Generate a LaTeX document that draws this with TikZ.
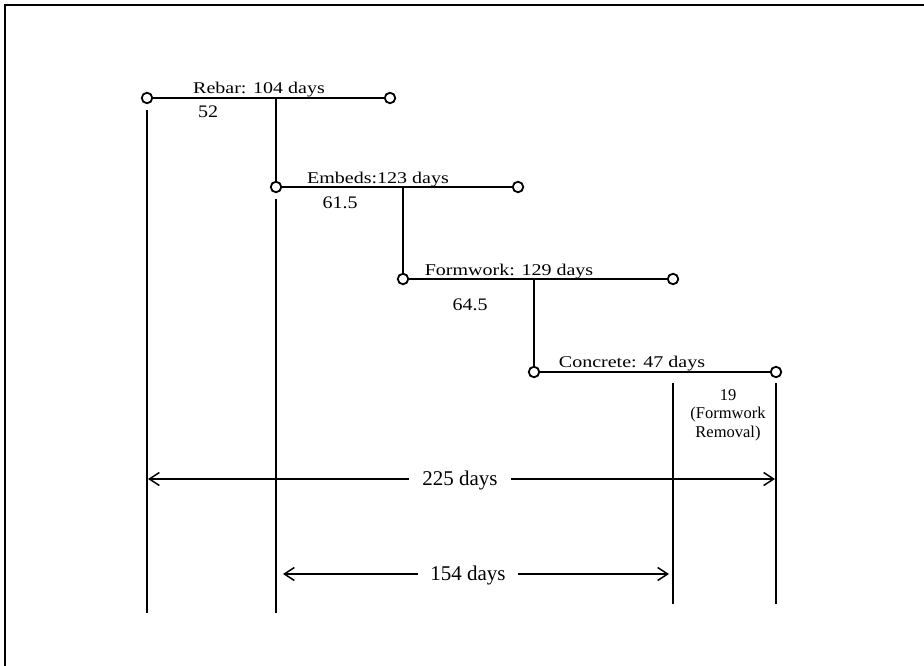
\documentclass[tikz,border=0pt]{standalone}
\usepackage{fontspec}
\setmainfont{Liberation Serif}
\usetikzlibrary{arrows.meta}
\begin{document}
\begin{tikzpicture}[x=1pt,y=-1pt,
  dot/.style={circle,draw,line width=1.8pt,fill=white,minimum size=10.5pt,inner sep=0pt},
  bar/.style={line width=2pt},
  vline/.style={line width=1.8pt},
  dimarrow/.style={line width=1.5pt,-{Straight Barb[length=10pt,width=13pt,line width=1.5pt]}},
  actlbl/.style={font=\fontsize{20}{24}\selectfont,anchor=base,inner sep=0pt},
  numlbl/.style={font=\fontsize{20}{24}\selectfont,anchor=base,inner sep=0pt},
  dimlbl/.style={font=\fontsize{21}{24}\selectfont,anchor=base,inner sep=0pt},
  smalllbl/.style={font=\fontsize{16.5}{18.5}\selectfont,anchor=north,inner sep=0pt,align=center},
  frameline/.style={line width=1.6pt}
]
\useasboundingbox (0,0) rectangle (924,666);
% frame (top and left edges visible)
\coordinate (f1) at (5,666);
\coordinate (f2) at (5,5);
\coordinate (f3) at (924,5);
\draw[frameline] (f1) -- (f2) -- (f3);

% activity end points
\node[dot] (rs) at (147,98) {};
\node[dot] (re) at (390,98) {};
\node[dot] (es) at (276,187) {};
\node[dot] (ee) at (518,187) {};
\node[dot] (fs) at (403,279) {};
\node[dot] (fe) at (673,279) {};
\node[dot] (cs) at (534,372) {};
\node[dot] (ce) at (776,372) {};

% junction points on bars
\coordinate (rj) at (276,98);
\coordinate (ej) at (403,187);
\coordinate (fj) at (534,279);

% bars
\draw[bar] (rs) -- (re);
\draw[bar] (es) -- (ee);
\draw[bar] (fs) -- (fe);
\draw[bar] (cs) -- (ce);

% links between activities
\draw[bar] (rj) -- (es);
\draw[bar] (ej) -- (fs);
\draw[bar] (fj) -- (cs);

% activity labels
\node[actlbl] (lr) at (259,94) {\scalebox{1}[0.82]{Rebar: 104 days}};
\node[actlbl] (le) at (378,183) {\scalebox{1}[0.82]{Embeds:123 days}};
\node[actlbl] (lf) at (509,275) {\scalebox{1}[0.82]{Formwork: 129 days}};
\node[actlbl] (lc) at (632,367) {\scalebox{1}[0.82]{Concrete: 47 days}};

% half durations
\node[numlbl] (n52) at (208,118) {\scalebox{1}[0.88]{52}};
\node[numlbl] (n61) at (340,208) {\scalebox{1}[0.88]{61.5}};
\node[numlbl] (n64) at (470,310) {\scalebox{1}[0.88]{64.5}};

% formwork removal
\node[smalllbl] (n19) at (728,389) {19\\(Formwork\\Removal)};

% vertical reference lines
\coordinate (v1t) at (147,110);
\coordinate (v1b) at (147,613);
\coordinate (v2t) at (276,199);
\coordinate (v2b) at (276,613);
\coordinate (v3t) at (673,383);
\coordinate (v3b) at (673,604);
\coordinate (v4t) at (776,383);
\coordinate (v4b) at (776,604);
\draw[vline] (v1t) -- (v1b);
\draw[vline] (v2t) -- (v2b);
\draw[vline] (v3t) -- (v3b);
\draw[vline] (v4t) -- (v4b);

% dimension 225 days
\node[dimlbl] (d225) at (460,485) {225 days};
\coordinate (a1l) at (409,479);
\coordinate (a1r) at (511,479);
\coordinate (a1lt) at (148,479);
\coordinate (a1rt) at (775,479);
\draw[dimarrow] (a1l) -- (a1lt);
\draw[dimarrow] (a1r) -- (a1rt);

% dimension 154 days
\node[dimlbl] (d154) at (468,580) {154 days};
\coordinate (a2l) at (418,574);
\coordinate (a2r) at (518,574);
\coordinate (a2lt) at (283,574);
\coordinate (a2rt) at (669,574);
\draw[dimarrow] (a2l) -- (a2lt);
\draw[dimarrow] (a2r) -- (a2rt);
\end{tikzpicture}
\end{document}
